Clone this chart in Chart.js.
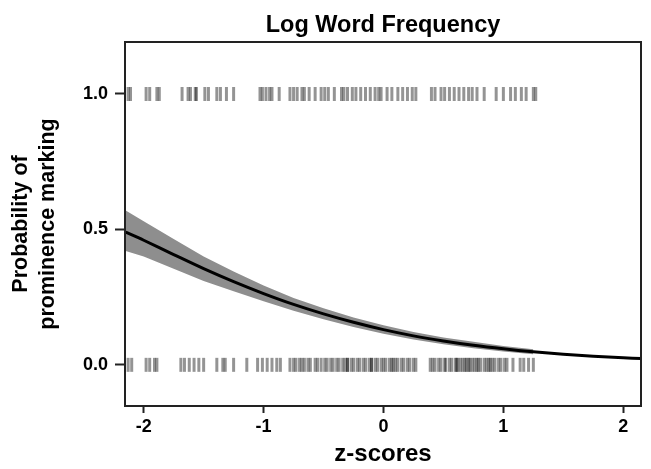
<!DOCTYPE html>
<html>
<head>
<meta charset="utf-8">
<script src="https://cdn.jsdelivr.net/npm/chart.js@4/dist/chart.umd.min.js"></script>
<style>
  html, body { margin: 0; padding: 0; background: #fff; }
  #wrap { width: 651px; height: 469px; }
</style>
</head>
<body>
<div id="wrap"><canvas id="chart"></canvas></div>
<script>
// Data
const xTicks = [-2, -1, 0, 1, 2];
const yTicks = [0, 0.5, 1];

// fitted curve and confidence band
const curveX = [-2.15, -2.0, -1.75, -1.5, -1.25, -1.0, -0.75, -0.5, -0.25, 0, 0.25, 0.5, 0.75, 1.0, 1.25, 1.5, 1.75, 2.0, 2.15];
const curveY = [0.49, 0.46, 0.407, 0.355, 0.307, 0.263, 0.223, 0.188, 0.157, 0.13, 0.107, 0.088, 0.072, 0.059, 0.048, 0.039, 0.032, 0.026, 0.023];
const bandX = [-2.15, -2.0, -1.75, -1.5, -1.25, -1.0, -0.75, -0.5, -0.25, 0, 0.25, 0.5, 0.75, 1.0, 1.25];
const bandLow = [0.42, 0.40, 0.355, 0.31, 0.272, 0.235, 0.200, 0.168, 0.140, 0.115, 0.094, 0.076, 0.061, 0.049, 0.039];
const bandHigh = [0.57, 0.53, 0.465, 0.40, 0.345, 0.293, 0.247, 0.209, 0.175, 0.146, 0.121, 0.101, 0.085, 0.070, 0.058];

// observations (z-scores) marked / not marked
const marked = [-2.13, -2.11, -1.98, -1.95, -1.89, -1.87, -1.68, -1.63, -1.61, -1.57, -1.56, -1.49, -1.46, -1.39, -1.36, -1.31, -1.25,
  -1.03, -1.01, -0.98, -0.95, -0.93, -0.87, -0.78, -0.75, -0.72, -0.68, -0.66, -0.62, -0.57, -0.52, -0.49, -0.46, -0.41,
  -0.35, -0.33, -0.30, -0.26, -0.23, -0.19, -0.15, -0.11, -0.07, -0.04, -0.02, 0.03, 0.07, 0.12, 0.16, 0.20, 0.24, 0.27,
  0.40, 0.43, 0.48, 0.51, 0.55, 0.59, 0.63, 0.67, 0.71, 0.74, 0.78, 0.84, 0.94, 1.00, 1.06, 1.10, 1.15, 1.19, 1.25, 1.27];
const unmarked = [-2.13, -2.10, -1.98, -1.95, -1.91, -1.89, -1.69, -1.66, -1.62, -1.58, -1.54, -1.50, -1.39, -1.34, -1.32, -1.25, -1.14,
  -1.05, -1.01, -0.97, -0.93, -0.89, -0.86, -0.78, -0.75, -0.73, -0.70, -0.68, -0.66, -0.63, -0.61, -0.57, -0.55, -0.52,
  -0.49, -0.47, -0.44, -0.42, -0.39, -0.37, -0.34, -0.32, -0.30, -0.27, -0.25, -0.22, -0.20, -0.17, -0.15, -0.12, -0.10,
  -0.07, -0.05, -0.02, 0.00, 0.02, 0.05, 0.07, 0.10, 0.12, 0.15, 0.17, 0.20, 0.22, 0.25, 0.27,
  0.39, 0.41, 0.43, 0.46, 0.48, 0.51, 0.52, 0.55, 0.57, 0.60, 0.61, 0.64, 0.66, 0.69, 0.71, 0.74, 0.76, 0.79, 0.81,
  0.84, 0.86, 0.89, 0.91, 0.93, 0.96, 0.98, 1.01, 1.03, 1.08, 1.14, 1.17, 1.21, 1.25,
  -0.30, -0.10, 0.08, 0.62, 0.68, 0.72, 0.78, 0.88];

const FONT = "'Liberation Sans', Arial, sans-serif";
const toPts = (xs, ys) => xs.map((x, i) => ({ x, y: ys[i] }));

// frame around the plot area
const framePlugin = {
  id: "frame",
  afterDraw(chart) {
    const { ctx, chartArea: a } = chart;
    ctx.save();
    ctx.strokeStyle = "#222";
    ctx.lineWidth = 2;
    ctx.strokeRect(a.left, a.top, a.right - a.left, a.bottom - a.top);
    ctx.restore();
  },
};

const rugStyle = {
  showLine: false,
  pointStyle: "line",
  rotation: 90,
  pointRadius: 7,
  borderWidth: 3,
  borderColor: "rgba(0,0,0,0.42)",
  order: 2,
};

new Chart(document.getElementById("chart"), {
  type: "scatter",
  data: {
    datasets: [
      { label: "upper", data: toPts(bandX, bandHigh), showLine: true, fill: "+1", pointRadius: 0, borderWidth: 0, borderColor: "rgba(0,0,0,0)", backgroundColor: "#8e8e8e", order: 3 },
      { label: "lower", data: toPts(bandX, bandLow), showLine: true, fill: false, pointRadius: 0, borderWidth: 0, borderColor: "rgba(0,0,0,0)", order: 3 },
      { label: "fit", data: toPts(curveX, curveY), showLine: true, fill: false, pointRadius: 0, borderWidth: 3, borderColor: "#000", tension: 0.3, order: 1 },
      { label: "marked", data: marked.map((x) => ({ x, y: 1 })), ...rugStyle },
      { label: "unmarked", data: unmarked.map((x) => ({ x, y: 0 })), ...rugStyle },
    ],
  },
  options: {
    responsive: true,
    maintainAspectRatio: false,
    animation: false,
    events: [],
    layout: { padding: { left: 0, right: 1, top: 0, bottom: 0 } },
    plugins: {
      legend: { display: false },
      tooltip: { enabled: false },
      title: {
        display: true,
        fullSize: false,
        text: "Log Word Frequency",
        color: "#000",
        font: { family: FONT, size: 23.5, weight: "bold", lineHeight: 1.2 },
        padding: { top: 11, bottom: 2.8 },
      },
    },
    scales: {
      x: {
        type: "linear",
        min: -2.156,
        max: 2.148,
        afterBuildTicks: (axis) => { axis.ticks = xTicks.map((value) => ({ value })); },
        afterFit: (axis) => { axis.height = 63; },
        grid: { drawOnChartArea: false, drawTicks: true, tickLength: 7, tickWidth: 2, tickColor: "#222" },
        border: { display: false },
        ticks: { color: "#000", padding: 3, font: { family: FONT, size: 18, weight: "bold" }, callback: (v) => String(v) },
        title: { display: true, text: "z-scores", color: "#000", font: { family: FONT, size: 24, weight: "bold", lineHeight: 1.2 }, padding: { top: 0, bottom: 0 } },
      },
      y: {
        type: "linear",
        min: -0.152,
        max: 1.192,
        afterBuildTicks: (axis) => { axis.ticks = yTicks.map((value) => ({ value })); },
        afterFit: (axis) => { axis.width = 125; },
        grid: { drawOnChartArea: false, drawTicks: true, tickLength: 10, tickWidth: 2, tickColor: "#222" },
        border: { display: false },
        ticks: { color: "#000", padding: 7, font: { family: FONT, size: 18, weight: "bold" }, callback: (v) => v.toFixed(1) },
        title: { display: true, text: ["Probability of", "prominence marking"], color: "#000", font: { family: FONT, size: 21.5, weight: "bold", lineHeight: 1.24 }, padding: { top: 8, bottom: 0 } },
      },
    },
  },
  plugins: [framePlugin],
});
</script>
</body>
</html>
